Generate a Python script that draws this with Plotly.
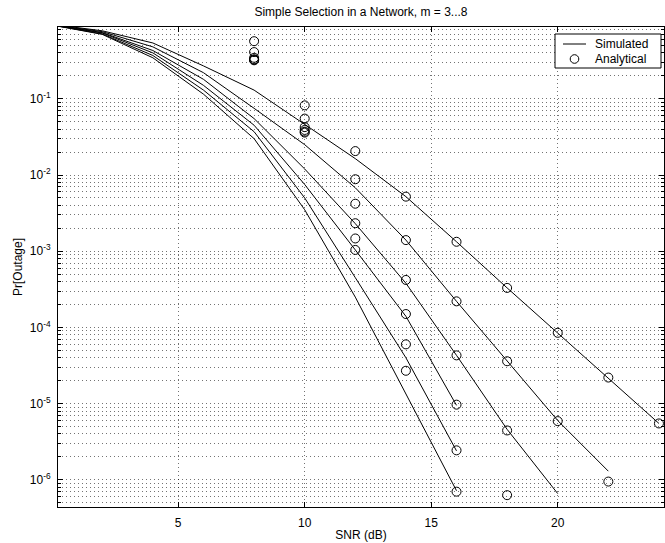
import plotly.graph_objects as go

# ---- data ----
snr_sim = [0, 2, 4, 6, 8, 10, 12, 14, 16, 18, 20, 22, 24]
sim_m3 = [0.95, 0.78, 0.54, 0.27, 0.13, 0.046, 0.0164, 0.0052, 0.00133, 3.3e-4, 8.5e-5, 2.2e-5, 5.5e-6]
sim_m4 = [0.94, 0.76, 0.48, 0.22, 0.075, 0.025, 0.0068, 0.0014, 2.2e-4, 3.6e-5, 6e-6, 1.3e-6]
sim_m5 = [0.94, 0.74, 0.43, 0.18, 0.055, 0.012, 0.0023, 3.8e-4, 4.3e-5, 4.6e-6, 6.6e-7]
sim_m6 = [0.93, 0.73, 0.40, 0.15, 0.045, 0.0075, 0.00104, 1.4e-4, 9.5e-6]
sim_m7 = [0.93, 0.71, 0.37, 0.13, 0.037, 0.005, 4.5e-4, 4e-5, 2.4e-6]
sim_m8 = [0.93, 0.70, 0.345, 0.115, 0.03, 0.0035, 2.5e-4, 1.34e-5, 7.2e-7]

snr_ana = [8, 10, 12, 14, 16, 18, 20, 22, 24]
ana_m3 = [0.57, 0.082, 0.0206, 0.0052, 0.00133, 3.3e-4, 8.5e-5, 2.2e-5, 5.5e-6]
ana_m4 = [0.41, 0.055, 0.0088, 0.0014, 2.2e-4, 3.6e-5, 5.9e-6, 9.5e-7]
ana_m5 = [0.345, 0.0425, 0.0042, 4.2e-4, 4.3e-5, 4.45e-6]
ana_m6 = [0.33, 0.039, 0.00233, 1.5e-4, 9.7e-6, 6.3e-7]
ana_m7 = [0.325, 0.037, 0.00147, 6e-5, 2.44e-6]
ana_m8 = [0.32, 0.036, 0.00104, 2.7e-5, 7e-7]

x_ticks = [5, 10, 15, 20]
y_ticks = [1e-6, 1e-5, 1e-4, 1e-3, 1e-2, 1e-1]
y_ticktext = ["10<sup>-6</sup>", "10<sup>-5</sup>", "10<sup>-4</sup>",
              "10<sup>-3</sup>", "10<sup>-2</sup>", "10<sup>-1</sup>"]

legend_labels = ["Simulated", "Analytical"]
title_text = "Simple Selection in a Network, m = 3...8"

FONT = "Liberation Sans, Arial, Helvetica, sans-serif"

fig = go.Figure()

sims = [sim_m3, sim_m4, sim_m5, sim_m6, sim_m7, sim_m8]
for s in sims:
    fig.add_trace(go.Scatter(
        x=snr_sim[:len(s)], y=s, mode="lines",
        line=dict(color="black", width=1),
        name=legend_labels[0], showlegend=False))

anas = [ana_m3, ana_m4, ana_m5, ana_m6, ana_m7, ana_m8]
for a in anas:
    fig.add_trace(go.Scatter(
        x=snr_ana[:len(a)], y=a, mode="markers",
        marker=dict(symbol="circle-open", size=9, color="black",
                    line=dict(color="black", width=1)),
        name=legend_labels[1], showlegend=False))

minor_vals = [k * 10.0 ** e for e in range(-7, 1) for k in range(2, 10)]
GRID = "rgba(0,0,0,0.55)"

# ---- legend box (paper coordinates), MATLAB style ----
L, R, T, B = 58, 1, 27, 36
W, H = 665, 543
pw, ph = W - L - R, H - T - B


def px(xp):
    return (xp - L) / pw


def py(yp):
    return (H - B - yp) / ph


shapes = [
    dict(type="rect", xref="paper", yref="paper",
         x0=px(555), x1=px(661), y0=py(68), y1=py(34),
         line=dict(color="black", width=1), fillcolor="white", layer="above"),
    dict(type="line", xref="paper", yref="paper",
         x0=px(563), x1=px(586), y0=py(44), y1=py(44),
         line=dict(color="black", width=1), layer="above"),
    dict(type="circle", xref="paper", yref="paper",
         xsizemode="pixel", ysizemode="pixel",
         xanchor=px(574.5), yanchor=py(59),
         x0=-4.3, x1=4.3, y0=-4.3, y1=4.3,
         line=dict(color="black", width=1), layer="above"),
]
annotations = [
    dict(text=legend_labels[0], xref="paper", yref="paper", x=px(593), y=py(44),
         xanchor="left", yanchor="middle", showarrow=False,
         font=dict(family=FONT, size=12, color="black")),
    dict(text=legend_labels[1], xref="paper", yref="paper", x=px(593), y=py(59),
         xanchor="left", yanchor="middle", showarrow=False,
         font=dict(family=FONT, size=12, color="black")),
]

fig.update_layout(
    width=W, height=H,
    margin=dict(l=L, r=R, t=T, b=B),
    paper_bgcolor="white", plot_bgcolor="white",
    font=dict(family=FONT, size=12, color="black"),
    showlegend=False,
    shapes=shapes, annotations=annotations,
    title=dict(text=title_text, x=px(361), xref="paper", xanchor="center",
               y=(H - 12) / H, yanchor="middle",
               font=dict(family=FONT, size=12, color="black")),
    xaxis=dict(
        range=[0.25, 24.2], tickvals=x_ticks,
        ticks="inside", ticklen=5, tickcolor="black",
        showline=True, linecolor="black", linewidth=1, mirror="allticks",
        showgrid=True, gridcolor=GRID, griddash="1px,3px", gridwidth=1,
        zeroline=False, ticklabelstandoff=5,
        title=dict(text="SNR (dB)", standoff=1, font=dict(size=12)),
        tickfont=dict(size=12)),
    yaxis=dict(
        type="log", range=[-6.356, -0.058],
        tickvals=y_ticks, ticktext=y_ticktext,
        ticks="inside", ticklen=5, tickcolor="black",
        showline=True, linecolor="black", linewidth=1, mirror="allticks",
        showgrid=True, gridcolor=GRID, griddash="1px,3px", gridwidth=1,
        zeroline=False, ticklabelstandoff=4,
        minor=dict(tickvals=minor_vals, ticks="inside", ticklen=3, tickcolor="black",
                   showgrid=True, gridcolor=GRID, griddash="1px,3px", gridwidth=1),
        title=dict(text="Pr[Outage]", standoff=4, font=dict(size=12)),
        tickfont=dict(size=12)),
)

fig.write_html("out.html", config={"displayModeBar": False},
               post_script="document.body.style.margin='0';document.body.style.overflow='hidden';")
